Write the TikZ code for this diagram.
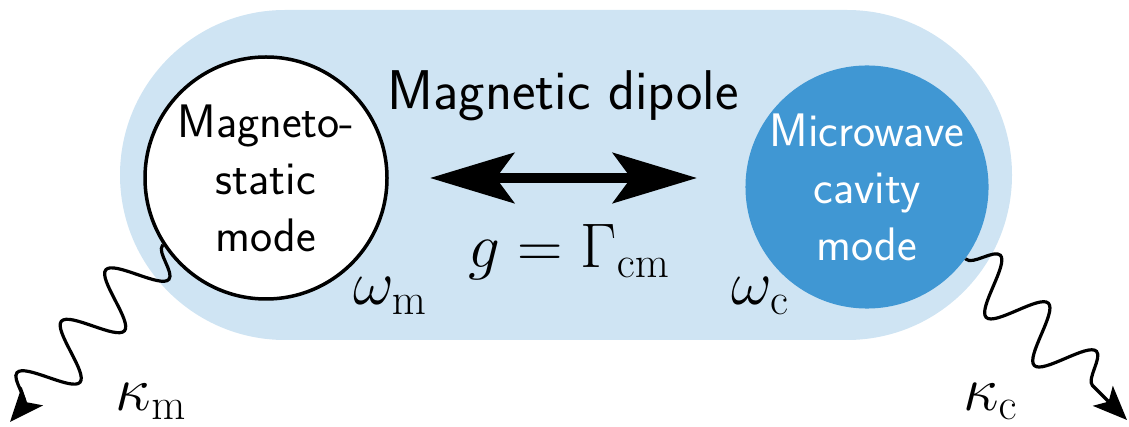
\RequirePackage{fix-cm}
\documentclass[tikz,border=0pt]{standalone}
\usetikzlibrary{arrows.meta,decorations.pathmorphing}
\definecolor{pillblue}{RGB}{207,228,243}
\definecolor{cavblue}{RGB}{64,151,211}
\begin{document}
\begin{tikzpicture}[x=1pt,y=-1pt,
  bigtext/.style={font=\sffamily\fontsize{56}{64}\selectfont},
  circtext/.style={font=\sffamily\fontsize{47}{57}\selectfont,align=center},
  mathlbl/.style={font=\fontsize{63}{68}\selectfont,anchor=base},
  wave/.style={line width=3.2pt,-{Stealth[length=34pt,width=28pt,inset=8pt]},
    decorate,decoration={snake,segment length=68pt,amplitude=27pt,pre length=1pt,post length=16pt}},
  dblarrow/.style={line width=10pt,{Stealth[length=84pt,width=50pt,inset=18pt]}-{Stealth[length=84pt,width=50pt,inset=18pt]}}]
\useasboundingbox (0,0) rectangle (1129,427);
\node[fill=pillblue,rounded corners=165pt,minimum width=892pt,minimum height=330pt,inner sep=0pt] (bg) at (566,175) {};
\node[circle,draw=black,line width=3.5pt,fill=white,minimum size=242pt,inner sep=0pt,circtext] (mag) at (266,178) {Magneto-\\static\\mode};
\node[circle,fill=cavblue,minimum size=226pt,inner sep=0pt,circtext,text=white] (cav) at (867,187) {Microwave\\cavity\\mode};
\node[bigtext] (title) at (563,96) {Magnetic dipole};
\coordinate (al) at (430,178);
\coordinate (ar) at (697,178);
\draw[dblarrow] (al) -- (ar);
\node[mathlbl] (g) at (569,268) {$g=\Gamma_{\mathrm{cm}}$};
\node[mathlbl] (wm) at (390,305) {$\omega_{\mathrm{m}}$};
\node[mathlbl] (wc) at (760,305) {$\omega_{\mathrm{c}}$};
\coordinate (kml) at (10,422);
\coordinate (kcr) at (1127,420);
\draw[wave] (mag.213) -- (kml);
\draw[wave] (cav.-36) -- (kcr);
\node[mathlbl] (km) at (151,410) {$\kappa_{\mathrm{m}}$};
\node[mathlbl] (kc) at (990,410) {$\kappa_{\mathrm{c}}$};
\end{tikzpicture}
\end{document}
